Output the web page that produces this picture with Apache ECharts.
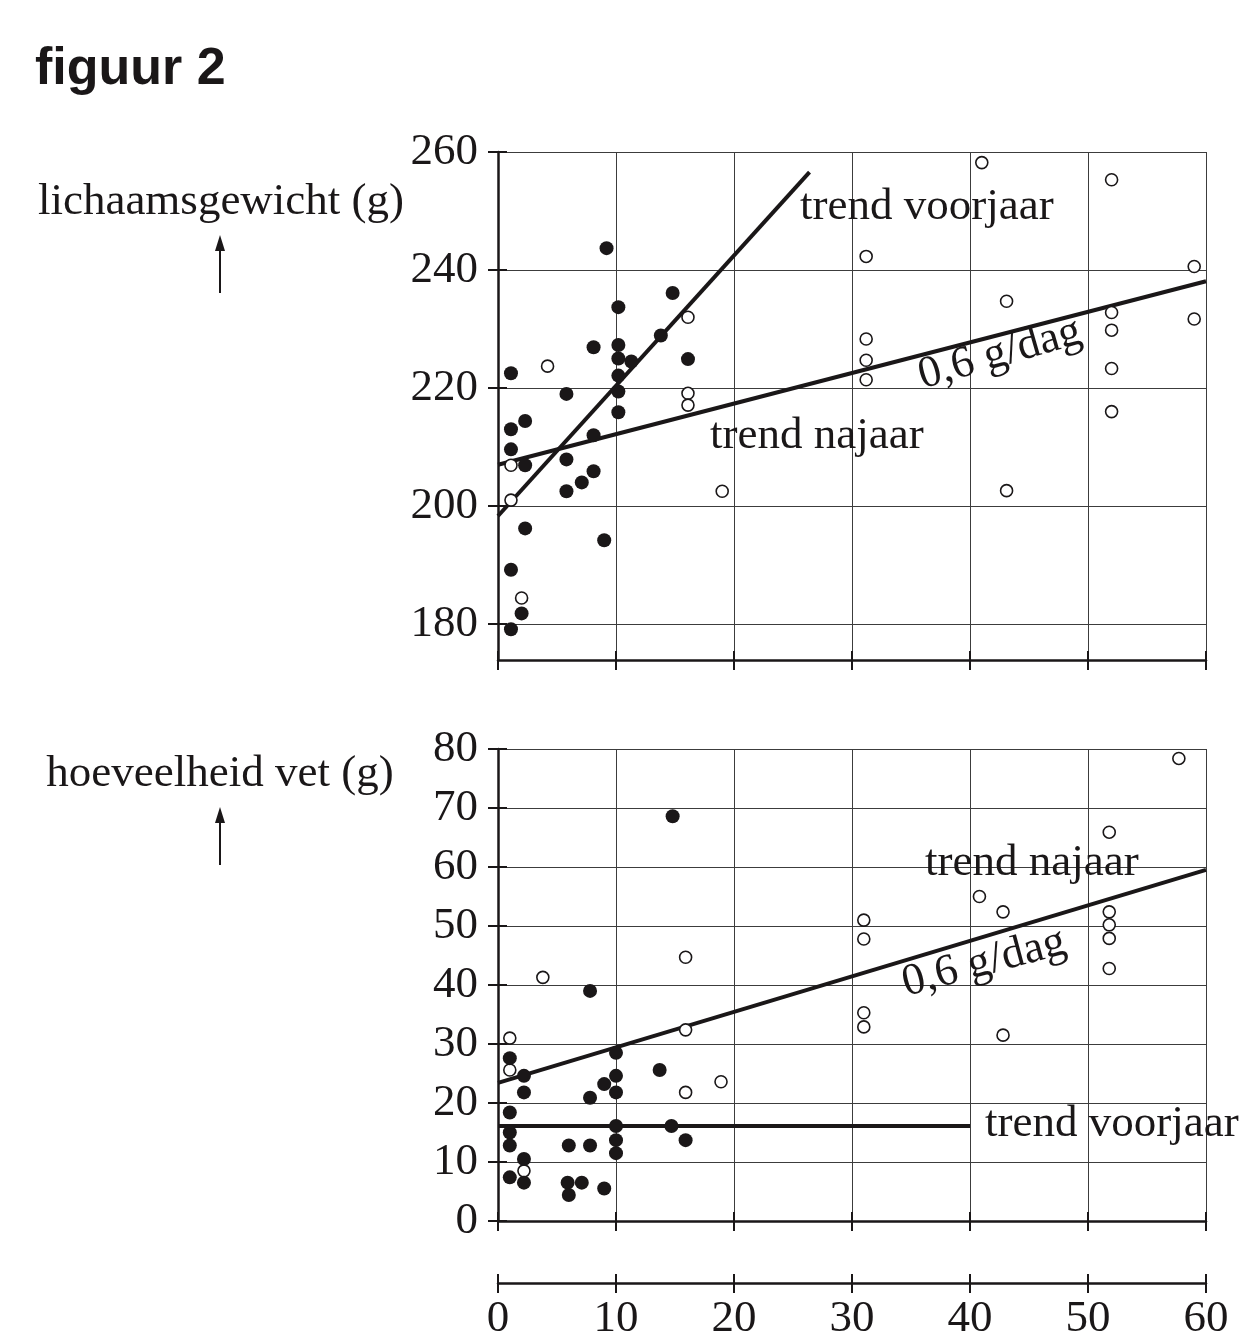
<!DOCTYPE html>
<html lang="nl">
<head>
    <meta charset="utf-8">
    <title>figuur 2</title>
    <style>
        html, body { margin: 0; padding: 0; background: #fff; }
        #figuur { width: 1240px; height: 1344px; }
    </style>
</head>
<body>
<div id="figuur"></div>

<script src="https://cdn.jsdelivr.net/npm/echarts@6.0.0/dist/echarts.min.js"></script>
<script type="text/javascript">
    // gegevens
    //------------------------------------------
    var dagTicks = [0, 10, 20, 30, 40, 50, 60];
    var gewichtTicks = [180, 200, 220, 240, 260];
    var vetTicks = [0, 10, 20, 30, 40, 50, 60, 70, 80];

    // lichaamsgewicht - voorjaar (dichte bolletjes)
    var gewVoorjaarX = [1.1, 1.1, 1.1, 2.3, 2.3, 2.3, 1.1, 2.0, 1.1, 5.8, 5.8, 5.8, 7.1, 8.1, 8.1, 8.1, 9.0, 9.2,
        10.2, 10.2, 10.2, 10.2, 10.2, 10.2, 11.3, 13.8, 14.8, 16.1];
    var gewVoorjaarY = [222.5, 213.0, 209.6, 214.4, 206.9, 196.2, 189.2, 181.8, 179.1, 219.0, 207.9, 202.5, 204.0, 226.9, 212.0, 205.9, 194.2, 243.7,
        233.7, 227.3, 225.0, 222.1, 219.4, 215.9, 224.5, 228.9, 236.1, 224.9];
    // lichaamsgewicht - najaar (open bolletjes)
    var gewNajaarX = [1.1, 1.1, 2.0, 4.2, 16.1, 16.1, 16.1, 19.0, 31.2, 31.2, 31.2, 31.2, 41.0, 43.1, 43.1,
        52.0, 52.0, 52.0, 52.0, 52.0, 59.0, 59.0];
    var gewNajaarY = [206.9, 201.0, 184.4, 223.7, 232.0, 219.1, 217.1, 202.5, 242.3, 228.3, 224.7, 221.4, 258.2, 234.7, 202.6,
        255.3, 232.8, 229.8, 223.3, 216.0, 240.6, 231.7];

    // hoeveelheid vet - voorjaar
    var vetVoorjaarX = [1.0, 2.2, 2.2, 1.0, 1.0, 1.0, 2.2, 1.0, 2.2, 6.0, 5.9, 6.0, 7.1, 7.8, 7.8, 7.8, 9.0, 9.0,
        10.0, 10.0, 10.0, 10.0, 10.0, 10.0, 13.7, 14.7, 14.8, 15.9];
    var vetVoorjaarY = [27.6, 24.6, 21.8, 18.4, 15.0, 12.8, 10.5, 7.4, 6.5, 12.8, 6.5, 4.4, 6.5, 12.8, 20.9, 39.0, 23.2, 5.5,
        28.5, 24.6, 21.8, 16.1, 13.7, 11.5, 25.6, 16.1, 68.6, 13.7];
    // hoeveelheid vet - najaar
    var vetNajaarX = [1.0, 1.0, 2.2, 3.8, 15.9, 15.9, 15.9, 18.9, 31.0, 31.0, 31.0, 31.0, 40.8, 42.8, 42.8,
        51.8, 51.8, 51.8, 51.8, 51.8, 57.7];
    var vetNajaarY = [31.0, 25.6, 8.5, 41.3, 44.7, 32.4, 21.8, 23.6, 51.0, 47.8, 35.3, 32.9, 55.0, 52.4, 31.5,
        65.9, 52.4, 50.2, 47.9, 42.8, 78.4];

    // trendlijnen (begin- en eindpunt)
    var trendGewVoorjaarX = [0, 26.4];
    var trendGewVoorjaarY = [198.3, 256.6];
    var trendGewNajaarX = [0, 60];
    var trendGewNajaarY = [207.0, 238.1];
    var trendVetVoorjaarX = [0, 40];
    var trendVetVoorjaarY = [16.1, 16.1];
    var trendVetNajaarX = [0, 60];
    var trendVetNajaarY = [23.4, 59.5];

    // opmaak
    //------------------------------------------
    var ink = '#1a1718';
    var serif = '"Liberation Serif", "Times New Roman", serif';
    var gridKleur = '#3c3c3c';

    function punten(xs, ys) {
        return xs.map(function (x, i) { return [x, ys[i]]; });
    }

    // o.line / o.tick ('out' | 'in') / o.label / o.split / o.offset
    function maakAs(ticks, gridIndex, pos, o) {
        var binnen = o.tick === 'in';
        return {
            type: 'value',
            gridIndex: gridIndex,
            position: pos,
            offset: o.offset || 0,
            min: ticks[0],
            max: ticks[ticks.length - 1],
            interval: ticks[1] - ticks[0],
            axisLine: { show: !!o.line, onZero: false, lineStyle: { color: ink, width: 2.5 } },
            axisTick: { show: !!o.tick, inside: binnen, length: binnen ? 9 : 10, lineStyle: { color: ink, width: 2 } },
            axisLabel: { show: !!o.label, color: ink, fontFamily: serif, fontSize: 45, margin: pos === 'left' ? 20 : 14 },
            splitLine: { show: !!o.split, lineStyle: { color: gridKleur, width: 1 } }
        };
    }

    function trend(xi, yi, xs, ys) {
        return {
            type: 'line', xAxisIndex: xi, yAxisIndex: yi,
            data: punten(xs, ys),
            symbol: 'none', silent: true, z: 2,
            lineStyle: { color: ink, width: 4 }
        };
    }

    function dicht(xi, yi, xs, ys) {
        return {
            type: 'scatter', xAxisIndex: xi, yAxisIndex: yi, clip: false, z: 4,
            data: punten(xs, ys), symbolSize: 14,
            itemStyle: { color: ink, opacity: 1 }
        };
    }

    function open(xi, yi, xs, ys) {
        return {
            type: 'scatter', xAxisIndex: xi, yAxisIndex: yi, clip: false, z: 3,
            data: punten(xs, ys), symbolSize: 12,
            itemStyle: { color: '#fff', borderColor: ink, borderWidth: 1.6, opacity: 1 }
        };
    }

    function tekst(t, x, y, hoek) {
        return {
            type: 'text', x: x, y: y, rotation: (hoek || 0) * Math.PI / 180, z: 10,
            style: { text: t, font: '45px ' + serif, fill: ink, align: hoek ? 'center' : 'left', verticalAlign: 'middle' }
        };
    }

    function pijl(x, y1, y2) {
        return [
            { type: 'line', shape: { x1: x, y1: y1, x2: x, y2: y2 + 10 }, style: { stroke: ink, lineWidth: 2 } },
            { type: 'polygon', shape: { points: [[x, y2], [x - 5, y2 + 16], [x + 5, y2 + 16]] }, style: { fill: ink } }
        ];
    }

    var chart = echarts.init(document.getElementById('figuur'));

    var option = {
        backgroundColor: '#fff',
        animation: false,
        grid: [
            { left: 498, top: 152, width: 708, height: 472 },  // lichaamsgewicht 180-260
            { left: 498, top: 624, width: 708, height: 36 },   // strook onder 180 tot de x-as
            { left: 498, top: 749, width: 708, height: 472 }   // hoeveelheid vet
        ],
        xAxis: [
            maakAs(dagTicks, 0, 'bottom', { split: true }),
            maakAs(dagTicks, 1, 'bottom', { line: true, tick: 'out', split: true }),
            maakAs(dagTicks, 1, 'bottom', { tick: 'in' }),
            maakAs(dagTicks, 2, 'bottom', { line: true, tick: 'out', split: true }),
            maakAs(dagTicks, 2, 'bottom', { tick: 'in' }),
            maakAs(dagTicks, 2, 'bottom', { line: true, tick: 'out', label: true, offset: 62 }),
            maakAs(dagTicks, 2, 'bottom', { tick: 'in', offset: 62 })
        ],
        yAxis: [
            maakAs(gewichtTicks, 0, 'left', { line: true, tick: 'out', label: true, split: true }),
            maakAs(gewichtTicks, 0, 'left', { tick: 'in' }),
            maakAs([0, 1], 1, 'left', { line: true }),
            maakAs(vetTicks, 2, 'left', { line: true, tick: 'out', label: true, split: true }),
            maakAs(vetTicks, 2, 'left', { tick: 'in' })
        ],
        series: [
            trend(0, 0, trendGewVoorjaarX, trendGewVoorjaarY),
            trend(0, 0, trendGewNajaarX, trendGewNajaarY),
            trend(3, 3, trendVetVoorjaarX, trendVetVoorjaarY),
            trend(3, 3, trendVetNajaarX, trendVetNajaarY),
            open(0, 0, gewNajaarX, gewNajaarY),
            dicht(0, 0, gewVoorjaarX, gewVoorjaarY),
            open(3, 3, vetNajaarX, vetNajaarY),
            dicht(3, 3, vetVoorjaarX, vetVoorjaarY)
        ],
        graphic: [
            {
                type: 'text', x: 35, y: 70, z: 10,
                style: { text: 'figuur 2', font: 'bold 52px "Liberation Sans", Arial, sans-serif', fill: ink, align: 'left', verticalAlign: 'middle' }
            },
            {
                type: 'text', x: 221, y: 202, z: 10,
                style: { text: 'lichaamsgewicht (g)', font: '45px ' + serif, fill: ink, align: 'center', verticalAlign: 'middle' }
            },
            {
                type: 'text', x: 220, y: 774, z: 10,
                style: { text: 'hoeveelheid vet (g)', font: '45px ' + serif, fill: ink, align: 'center', verticalAlign: 'middle' }
            },
            tekst('trend voorjaar', 800, 207),
            tekst('trend najaar', 710, 436),
            tekst('0,6 g/dag', 1000, 354, 16),
            tekst('trend najaar', 925, 863),
            tekst('0,6 g/dag', 984, 963, 15),
            tekst('trend voorjaar', 985, 1124)
        ].concat(pijl(220, 293, 235), pijl(220, 865, 807))
    };

    chart.setOption(option);
</script>
</body>
</html>
